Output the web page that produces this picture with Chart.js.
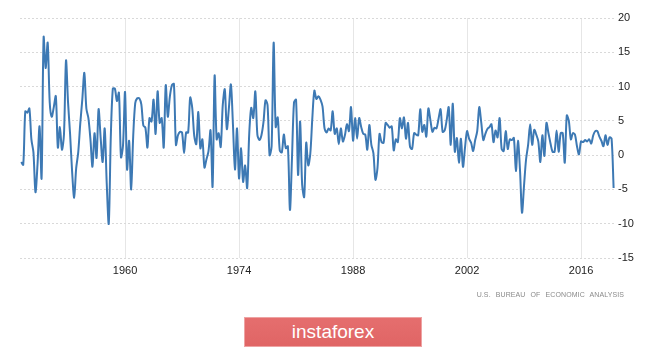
<!DOCTYPE html>
<html>
<head>
<meta charset="utf-8">
<script src="https://cdn.jsdelivr.net/npm/chart.js@4"></script>
<style>
  html, body { margin: 0; padding: 0; background: #fff; }
  #wrap { position: relative; width: 665px; height: 348px; overflow: hidden; }
  #source {
    position: absolute; right: 41px; top: 291px;
    font: 7px "Liberation Sans", Arial, sans-serif; letter-spacing: 0.1px;
    color: #8a8a8a; word-spacing: 3px; white-space: nowrap;
  }
  #brand {
    position: absolute; left: 244px; top: 317px; width: 178px; height: 30px;
    background: linear-gradient(#e56e6e, #e06565); border: 1px solid #eea3a3; box-sizing: border-box;
    color: #fff; font: 19px "Liberation Sans", Arial, sans-serif;
    text-align: center; line-height: 28px;
  }
</style>
</head>
<body>
<div id="wrap">
  <canvas id="gdpChart" width="665" height="348"></canvas>
  <div id="source">U.S. BUREAU OF ECONOMIC ANALYSIS</div>
  <div id="brand">instaforex</div>
</div>
<script>
// quarterly real GDP growth, annualized %, first value is 1947 Q2
const startYear = 1947;
const startQuarter = 2;
const gdp1940s = [-1.0, -1.4, 6.4, 6.2, 6.8, 2.3, 0.4, -5.4, -1.4, 4.2, -3.4];
const gdp1950s = [17.2, 12.7, 16.4, 7.7, 5.6, 7.0, 8.6, 1.1, 4.1, 0.8, 3.0, 13.8,
  7.7, 3.1, -2.4, -6.2, -1.9, 0.4, 4.6, 8.1, 12.0, 6.8, 5.4, 2.3,
  -1.7, 3.2, -0.4, 6.7, 2.6, -1.0, 3.9, -4.1, -10.0, 2.6, 9.7, 9.7,
  7.9, 9.1, -0.3, 1.4];
const gdp1960s = [9.2, -2.1, 2.1, -5.0, 2.7, 7.6, 8.3, 8.3, 7.4, 4.3, 4.0, 1.1,
  5.4, 4.9, 8.1, 3.1, 9.3, 4.7, 5.4, 1.1, 10.2, 5.6, 8.5, 10.2,
  10.4, 1.5, 2.9, 3.4, 3.3, 0.3, 3.3, 3.3, 8.4, 6.9, 2.8, 1.6,
  6.3, 1.0, 2.3, -1.8];
const gdp1970s = [-0.6, 0.6, 3.6, -4.6, 11.6, 2.3, 3.2, 1.2, 7.3, 9.6, 3.8, 6.8,
  10.3, 4.5, -2.1, 3.9, -3.4, 1.0, -3.9, -1.5, -4.8, 3.1, 6.9, 5.4,
  9.3, 3.0, 2.2, 2.9, 4.8, 8.0, 7.3, 0.0, 1.3, 16.4, 4.1, 5.5,
  0.7, 0.4, 3.0, 1.0];
const gdp1980s = [1.3, -8.0, -0.5, 7.7, 8.1, -2.9, 4.9, -4.3, -6.1, 1.8, -1.5, 0.2,
  5.4, 9.4, 8.2, 8.6, 8.1, 7.1, 3.9, 3.3, 3.9, 3.6, 6.4, 3.1,
  3.9, 1.6, 3.9, 2.0, 2.9, 4.5, 3.5, 7.0, 2.1, 5.4, 2.4, 5.4,
  4.1, 3.1, 3.0, 0.8];
const gdp1990s = [4.4, 1.5, 0.3, -3.6, -1.9, 3.1, 1.9, 1.8, 4.7, 4.4, 4.0, 4.2,
  0.7, 2.3, 1.9, 5.4, 3.9, 5.5, 2.4, 4.7, 1.2, 0.9, 3.2, 3.0,
  2.9, 6.7, 3.4, 4.4, 2.7, 6.8, 5.1, 3.4, 4.0, 3.9, 5.3, 6.7,
  3.4, 3.6, 5.1, 7.0];
const gdp2000s = [1.5, 7.5, 0.5, 2.5, -1.1, 2.4, -1.7, 1.1, 3.5, 2.4, 1.8, 0.6,
  2.2, 3.5, 7.0, 4.7, 2.2, 3.1, 3.8, 4.1, 4.5, 1.9, 3.6, 2.6,
  5.4, 0.9, 0.6, 3.5, 0.9, 2.3, 2.2, 2.5, -2.3, 2.1, -2.1, -8.4,
  -4.4, -0.6, 1.5, 4.5];
const gdp2010s = [1.5, 3.7, 3.0, 2.0, -1.0, 2.9, -0.1, 4.7, 3.2, 1.7, 0.5, 0.5,
  3.6, 0.5, 3.2, 3.2, -1.1, 5.8, 5.0, 2.3, 3.2, 3.0, 1.3, 0.1,
  2.0, 1.9, 2.2, 2.0, 2.3, 1.7, 2.9, 3.5, 3.5, 2.7, 2.1, 1.3,
  2.9, 1.5, 2.6, 2.4];
const gdp2020s = [-4.8];

const yearTicks = [1960, 1974, 1988, 2002, 2016];
const valueTicks = [-15, -10, -5, 0, 5, 10, 15, 20];

const growth = [].concat(gdp1940s, gdp1950s, gdp1960s, gdp1970s,
  gdp1980s, gdp1990s, gdp2000s, gdp2010s, gdp2020s);

// place each quarter at its calendar position
const points = growth.map((v, i) => ({
  x: startYear + (startQuarter - 1 + i) / 4,
  y: v
}));

const tickFont = { family: '"Liberation Sans", Arial, sans-serif', size: 11 };

const ctx = document.getElementById('gdpChart').getContext('2d');

const gdpChart = new Chart(ctx, {
  type: 'line',
  data: {
    datasets: [{
      data: points,
      borderColor: '#3d79b4',
      borderWidth: 2,
      pointRadius: 0,
      fill: false,
      tension: 0.3
    }]
  },
  options: {
    responsive: false,
    animation: false,
    layout: { padding: { left: 20, top: 18, right: 0, bottom: 70 } },
    plugins: {
      legend: { display: false },
      tooltip: { enabled: false }
    },
    scales: {
      x: {
        type: 'linear',
        min: 1947.1,
        max: 2020.17,
        afterBuildTicks: scale => {
          scale.ticks = yearTicks.map(v => ({ value: v }));
        },
        afterFit: scale => { scale.height = 20; },
        grid: { color: '#e6e6e6', drawTicks: false },
        border: { display: false },
        ticks: {
          font: tickFont,
          color: '#222',
          padding: 6,
          maxRotation: 0,
          autoSkip: false,
          callback: v => String(v)
        }
      },
      y: {
        position: 'right',
        min: -15,
        max: 20,
        afterBuildTicks: scale => {
          scale.ticks = valueTicks.map(v => ({ value: v }));
        },
        afterFit: scale => { scale.width = 50; },
        grid: { color: '#d9d9d9', drawTicks: false },
        border: { display: false, dash: [2, 2] },
        ticks: {
          font: tickFont,
          color: '#222',
          padding: 3
        }
      }
    }
  }
});
</script>
</body>
</html>
